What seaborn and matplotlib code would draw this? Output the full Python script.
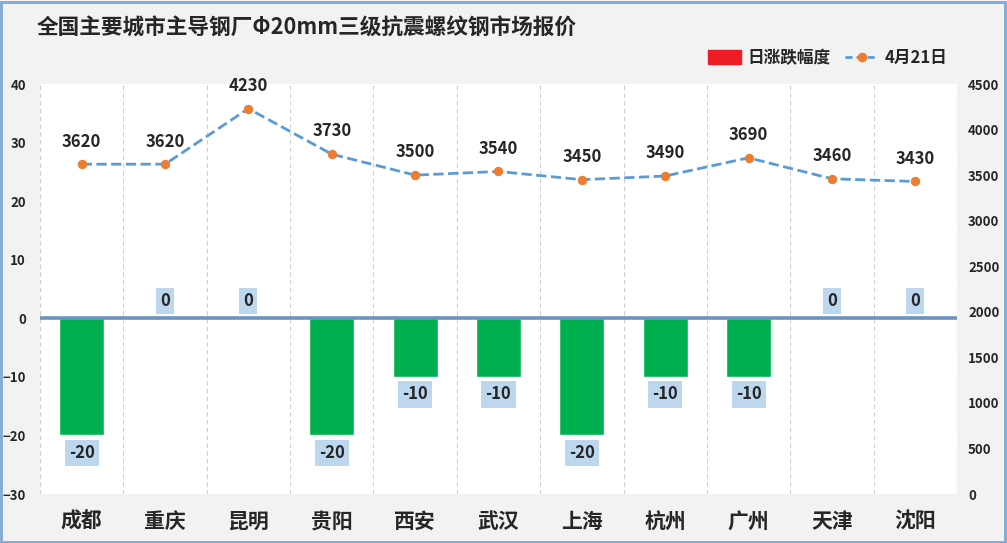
import numpy as np
import pandas as pd
import matplotlib
matplotlib.use("Agg")
import matplotlib.pyplot as plt
import seaborn as sns
from matplotlib.patches import Patch, Rectangle
from matplotlib.lines import Line2D

# --------------------------------------------------------------------------- #
# Data
# --------------------------------------------------------------------------- #
CITIES = ["成都", "重庆", "昆明", "贵阳", "西安", "武汉", "上海", "杭州", "广州", "天津", "沈阳"]
CHANGE = [-20, 0, 0, -20, -10, -10, -20, -10, -10, 0, 0]
PRICE = [3620, 3620, 4230, 3730, 3500, 3540, 3450, 3490, 3690, 3460, 3430]

TITLE = "全国主要城市主导钢厂Φ20mm三级抗震螺纹钢市场报价"
BAR_NAME = "日涨跌幅度"
LINE_NAME = "4月21日"

GREEN = "#00b050"
LINE_BLUE = "#5b9bd5"
ORANGE = "#ed7d31"
LABEL_BOX = "#bdd7ee"

sns.set_style("white")
plt.rcParams["font.family"] = ["Noto Sans CJK SC", "DejaVu Sans"]
plt.rcParams["font.weight"] = "bold"

df = pd.DataFrame({"city": CITIES, "change": CHANGE, "price": PRICE})
pos = np.arange(len(CITIES))

fig = plt.figure(figsize=(10.07, 5.43), dpi=100, facecolor="#f2f2f2")
ax = fig.add_axes([0.0397, 0.0902, 0.9106, 0.7551])
ax.set_facecolor("white")

sns.barplot(data=df, x="city", y="change", color=GREEN, width=0.54,
            saturation=1, ax=ax)
ax.set_ylim(-30, 40)
ax.set_xlim(-0.5, len(CITIES) - 0.5)
ax.set_yticks(range(-30, 41, 10))
ax.axhline(0, color="#6a93bf", lw=2.6, zorder=3)
for x in np.arange(-0.5, len(CITIES), 1.0):
    ax.axvline(x, color="#cfcfcf", lw=0.8, ls=(0, (4, 3)), zorder=0)
for s in ax.spines.values():
    s.set_visible(False)
ax.set_xlabel("")
ax.set_ylabel("")
ax.tick_params(axis="x", length=0, labelsize=15, pad=12)
ax.tick_params(axis="y", length=0, labelsize=9.5, pad=10)

for i, v in enumerate(CHANGE):
    y = v - 3 if v < 0 else 3
    ax.text(i, y, f"{v}", ha="center", va="center", fontsize=12,
            fontweight="bold", zorder=5,
            bbox=dict(boxstyle="square,pad=0.25", fc=LABEL_BOX, ec="none"))

ax2 = ax.twinx()
sns.lineplot(x=pos, y=PRICE, ax=ax2, color=LINE_BLUE, lw=2, ls="--",
             marker="o", markersize=6, markerfacecolor=ORANGE,
             markeredgecolor=ORANGE, zorder=4)
ax2.set_ylim(0, 4500)
ax2.set_yticks(range(0, 4501, 500))
for s in ax2.spines.values():
    s.set_visible(False)
ax2.tick_params(axis="y", length=0, labelsize=9.5, pad=8)
for i, p in enumerate(PRICE):
    ax2.text(i, p + 150, f"{p}", ha="center", va="bottom", fontsize=12,
             fontweight="bold")

for t in ax.get_xticklabels() + ax.get_yticklabels() + ax2.get_yticklabels():
    t.set_fontweight("bold")

fig.text(0.036, 0.948, TITLE, fontsize=15.6, fontweight="bold",
         ha="left", va="center")

handles = [Patch(color="#ee1c25", label=BAR_NAME),
           Line2D([], [], color=LINE_BLUE, ls=(0, (2.5, 1.5)), lw=2, marker="o",
                  markersize=6, markerfacecolor=ORANGE, markeredgecolor=ORANGE,
                  label=LINE_NAME)]
fig.legend(handles=handles, loc="center right", bbox_to_anchor=(0.952, 0.893),
           ncol=2, frameon=False, fontsize=12, handlelength=2.0,
           handleheight=0.9, columnspacing=0.9, handletextpad=0.35,
           borderpad=0.2)

fig.patches.append(Rectangle((0.001, 0.002), 0.997, 0.995, transform=fig.transFigure,
                             fill=False, ec="#7fa9d4", lw=2))

fig.savefig("out.png", dpi=100, facecolor=fig.get_facecolor())
